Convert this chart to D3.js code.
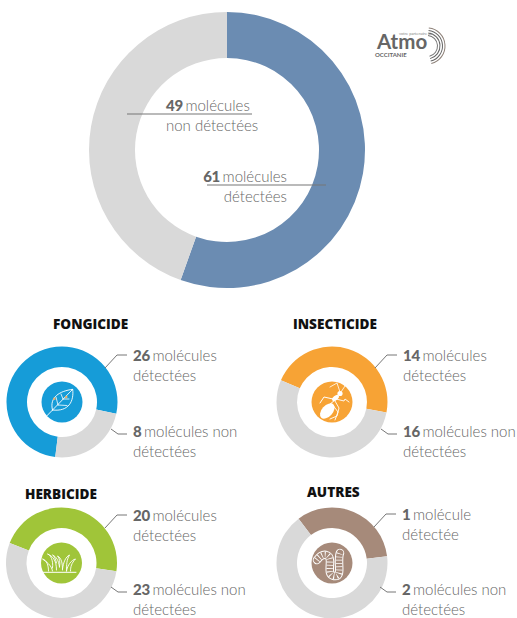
<!DOCTYPE html>
<html>
<head>
<meta charset="utf-8">
<script src="https://cdn.jsdelivr.net/npm/d3@7"></script>
<style>
  html, body { margin: 0; padding: 0; background: #fff; }
  svg { display: block; }
  text { font-family: Lato, "Open Sans", sans-serif; fill: #666; font-size: 15px; font-weight: 300; }
  text .num { font-weight: 900; fill: #666; letter-spacing: -0.3px; }
  .title { font-family: "Open Sans", sans-serif; font-weight: 800; fill: #111; font-size: 13.6px; }
  .leader { fill: none; stroke: #777; stroke-width: 1; }
</style>
</head>
<body>
<svg width="517" height="618"></svg>
<script>
var svg = d3.select("svg");

// whole set
var totalDetected = 61,
    totalNotDetected = 49;

// families
var families = ["FONGICIDE", "INSECTICIDE", "HERBICIDE", "AUTRES"];
var detected = [26, 14, 20, 1];
var notDetected = [8, 16, 23, 2];
var colors = ["#169cd8", "#f7a335", "#a0c539", "#a68a7a"];
var grey = "#d9d9d9";

// where each family's donut starts, degrees clockwise from north
var starts = [187, 293, 291, 323];

// layout of the small panels
var centers = [[62, 402], [332, 402], [61.5, 563], [332, 563]];
var titleAt = [[53, 329], [293, 329], [25, 499], [307, 497]];
var textAt = [[133, 361, 437], [403, 361, 437], [133, 521, 595], [402, 520, 595]];

function donut(g, values, fills, start, rOuter, rInner) {
  var a0 = start * Math.PI / 180;
  var pie = d3.pie().sort(null).startAngle(a0).endAngle(a0 + 2 * Math.PI);
  var arc = d3.arc().outerRadius(rOuter).innerRadius(rInner);
  g.selectAll("path.slice")
    .data(pie(values))
    .enter().append("path")
      .attr("class", "slice")
      .attr("d", arc)
      .style("fill", function(d, i) { return fills[i]; });
}

function label(x, y, num, first, second, anchor) {
  var t = svg.append("text").attr("x", x).attr("y", y).attr("text-anchor", anchor || "start");
  t.append("tspan").attr("class", "num").text(num);
  t.append("tspan").attr("dx", -1.5).text(" " + first);
  svg.append("text").attr("x", x).attr("y", y + 20).attr("text-anchor", anchor || "start").text(second);
}

// white line icons, drawn around the panel centre
function stroke(g, d, w) {
  g.append("path").attr("d", d).style("fill", "none").style("stroke", "#fff")
    .style("stroke-width", w || 1).style("stroke-linecap", "round").style("stroke-linejoin", "round");
}

function leaf(g) {
  stroke(g, "M-9.5,8C-13,-5 -2,-11 10.7,-12.7C12,-1 7,10 -9.5,8Z", 0.9);
  stroke(g, "M-15.3,14L10.7,-12.7", 0.9);
  stroke(g, "M-4,3L-6,-5M-4,3L5,3.5M1,-3L-1,-8M1,-3L7,-3", 0.8);
  g.append("circle").attr("cx", -7.7).attr("cy", -3.2).attr("r", 1.3).style("fill", "#e8b070");
  g.append("circle").attr("cx", 4.2).attr("cy", -5).attr("r", 1.3).style("fill", "#e8b070");
}

function ant(g) {
  g.append("ellipse").attr("rx", 9).attr("ry", 5.5)
    .attr("transform", "translate(-4.7,9) rotate(-48)").style("fill", "#fff");
  g.append("ellipse").attr("rx", 4).attr("ry", 2.2)
    .attr("transform", "translate(3.5,-4) rotate(-40)").style("fill", "#fff");
  g.append("circle").attr("cx", 8).attr("cy", -8.5).attr("r", 2.6).style("fill", "#fff");
  stroke(g, "M8,-10L5,-19L-2,-15", 0.8);
  stroke(g, "M9,-10L13,-16L12,-20", 0.8);
  stroke(g, "M1,-3L-8,-5L-12,1", 1);
  stroke(g, "M3,-2L-3,3", 1);
  stroke(g, "M4,-3L12,-1L13,-3L17,0", 0.9);
  stroke(g, "M3,-1L7,6L5,14L-2,17", 0.9);
  stroke(g, "M0,2L6,10L3,18", 0.9);
}

function grass(g) {
  stroke(g, "M-19.5,9.3H14.5", 1);
  stroke(g, "M-13,8C-13,2 -15,-3 -19,-4C-15,-1 -10,2 -9,8", 0.9);
  stroke(g, "M-9,5C-8,-3 -11,-8 -14,-9C-9,-7 -5,-3 -5,7", 0.9);
  stroke(g, "M-5,0C-6,-4 -7,-7 -9,-8C-5,-6 -3,-3 -2,4", 0.9);
  stroke(g, "M-2,4C-1,-1 -2,-5 -4,-7C0,-5 1,0 1,7", 0.9);
  stroke(g, "M1,6C2,-1 4,-6 8,-8C5,-3 5,2 5,8", 0.9);
  stroke(g, "M5,8C6,2 10,-3 14,-4C10,0 9,4 9,8", 0.9);
}

function worm(g) {
  var d = "M-15,-3C-9,-11 -2,-9 -2,-2C-2,6 -4,12 2,13C9,14 7,6 7,-1C7,-5 7,-8 8,-10";
  g.append("path").attr("d", d).style("fill", "none").style("stroke", "#fff").style("stroke-width", 8.5).style("stroke-linecap", "round");
  g.append("path").attr("d", d).style("fill", "none").style("stroke", "#a68a7a").style("stroke-width", 6.5).style("stroke-linecap", "round");
  g.append("path").attr("d", d).style("fill", "none").style("stroke", "#fff").style("stroke-width", 6.5).style("stroke-dasharray", "0.8 2.4");
}

var icons = [leaf, ant, grass, worm];

// main donut
var main = svg.append("g").attr("transform", "translate(227,150)");
donut(main, [totalDetected, totalNotDetected], ["#6b8cb2", grey], 0, 138, 92);

label(166, 111, totalNotDetected, "molécules", "non détectées");
label(287, 182, totalDetected, "molécules", "détectées", "end");
svg.append("path").attr("class", "leader").style("stroke-width", 1.2).attr("d", "M127,114H252");
svg.append("path").attr("class", "leader").style("stroke-width", 1.2).attr("d", "M207,185H326");

// small panels
families.forEach(function(name, i) {
  var c = centers[i];
  var g = svg.append("g").attr("transform", "translate(" + c[0] + "," + c[1] + ")");
  donut(g, [detected[i], notDetected[i]], [colors[i], grey], starts[i], 55.5, 35);
  g.append("circle").attr("r", 20.5).style("fill", colors[i]);

  svg.append("text").attr("class", "title").attr("x", titleAt[i][0]).attr("y", titleAt[i][1]).text(name);

  var t = textAt[i];
  var one = detected[i] == 1;
  label(t[0], t[1], detected[i], one ? "molécule" : "molécules", one ? "détectée" : "détectées");
  label(t[0], t[2], notDetected[i], "molécules non", "détectées");

  // leader lines, measured from the label start
  var y1 = t[1] - 6, y2 = t[2] - 3;
  svg.append("path").attr("class", "leader")
    .attr("d", "M" + (t[0] - 28) + "," + (y1 + 13) + "L" + (t[0] - 16) + "," + y1 + "H" + (t[0] - 6));
  svg.append("path").attr("class", "leader")
    .attr("d", "M" + (t[0] - 22) + "," + (y2 - 5) + "L" + (t[0] - 15) + "," + y2 + "H" + (t[0] - 6));

  icons[i](g);
});

// Atmo logo
var logo = svg.append("g");
logo.append("text").attr("x", 377).attr("y", 49).style("font-size", "20.5px").style("font-weight", 700).style("fill", "#666").text("Atmo");
logo.append("text").attr("x", 375).attr("y", 57).style("font-size", "6px").style("font-weight", 700).style("fill", "#666").text("OCCITANIE");
logo.append("text").attr("x", 399).attr("y", 35).style("font-size", "4px").style("font-weight", 400).style("fill", "#888").text("votre partenaire air");
var ring = d3.arc().startAngle(0.1).endAngle(2.9);
[[18, "#8d8078"], [15.5, "#666"], [13, "#666"], [10.5, "#777"]].forEach(function(r) {
  logo.append("path").attr("transform", "translate(427,46)")
    .attr("d", ring({ innerRadius: r[0] - 0.5, outerRadius: r[0] + 0.5 }))
    .style("fill", r[1]);
});
</script>
</body>
</html>
